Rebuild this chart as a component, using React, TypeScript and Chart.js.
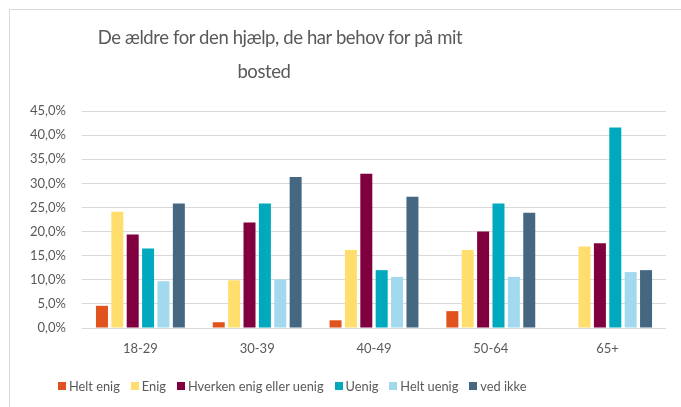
import React, { useEffect, useRef } from "react";
import { Chart, registerables } from "chart.js";

Chart.register(...registerables);

const categories = ["18-29", "30-39", "40-49", "50-64", "65+"];
const seriesNames = ["Helt enig", "Enig", "Hverken enig eller uenig", "Uenig", "Helt uenig", "ved ikke"];
const heltEnig = [4.6, 1.2, 1.6, 3.5, 0];
const enig = [24.1, 9.9, 16.2, 16.2, 16.9];
const hverken = [19.4, 21.9, 32.0, 20.0, 17.6];
const uenig = [16.5, 25.8, 12.0, 25.8, 41.6];
const heltUenig = [9.7, 10.1, 10.6, 10.6, 11.6];
const vedIkke = [25.8, 31.3, 27.2, 23.9, 12.0];
const seriesColors = ["#E0531F", "#FFDE6E", "#80003F", "#00A9BD", "#A3D9EE", "#456781"];
const yTicks = [0, 5, 10, 15, 20, 25, 30, 35, 40, 45];
const titleLines = ["De ældre for den hjælp, de har behov for på mit", "bosted"];

const FONT = "Lato, 'Liberation Sans', sans-serif";

export default function App() {
  const ref = useRef<HTMLCanvasElement | null>(null);
  useEffect(() => {
    if (!ref.current) return;
    const values = [heltEnig, enig, hverken, uenig, heltUenig, vedIkke];
    const chart = new Chart(ref.current, {
      type: "bar",
      data: {
        labels: categories,
        datasets: seriesNames.map((name, i) => ({
          label: name,
          data: values[i],
          backgroundColor: seriesColors[i],
          borderWidth: 0,
          categoryPercentage: 0.79,
          barPercentage: 0.78,
        })),
      },
      options: {
        responsive: false,
        animation: false,
        layout: { padding: { left: 0, right: 15, top: 111, bottom: 0 } },
        plugins: { legend: { display: false }, title: { display: false }, tooltip: { enabled: false } },
        scales: {
          x: {
            grid: { display: false, drawTicks: false },
            border: { display: false },
            ticks: { padding: 13, color: "#595959", font: { family: FONT, size: 13 } },
            afterFit: (s: any) => { s.height = 79; },
          },
          y: {
            min: 0,
            max: 45,
            afterBuildTicks: (s: any) => { s.ticks = yTicks.map((v) => ({ value: v })); },
            grid: { color: "#d9d9d9", lineWidth: 1, drawTicks: false },
            border: { display: false },
            ticks: {
              padding: 16,
              color: "#595959",
              font: { family: FONT, size: 13 },
              callback: (v: any) => Number(v).toFixed(1).replace(".", ",") + "%",
            },
            afterFit: (s: any) => { s.width = 82; },
          },
        },
      },
    });
    return () => chart.destroy();
  }, []);

  const titleCenters = [280, 264];
  const titleTops = [22, 56];

  return (
    <div style={{ position: "fixed", left: 0, top: 0, width: 681, height: 407, overflow: "hidden", background: "#fff", fontFamily: FONT }}>
      <div style={{ position: "absolute", left: 9, top: 9, width: 700, height: 420, border: "1px solid #d9d9d9" }} />
      <canvas ref={ref} width={681} height={407} style={{ position: "absolute", left: 0, top: 0 }} />
      {titleLines.map((t, i) => (
        <div key={i} style={{ position: "absolute", left: titleCenters[i] - 300, top: titleTops[i], width: 600, textAlign: "center", color: "#595959", fontSize: 18.5, letterSpacing: "-0.4px", lineHeight: "30px", whiteSpace: "nowrap" }}>{t}</div>
      ))}
      <div style={{ position: "absolute", left: 58, top: 378, display: "flex", alignItems: "center", color: "#595959", fontSize: 12.8, whiteSpace: "nowrap" }}>
        {seriesNames.map((n, i) => (
          <div key={i} style={{ display: "flex", alignItems: "center", marginRight: 11 }}>
            <span style={{ display: "inline-block", width: 8, height: 8, background: seriesColors[i], marginRight: 3 }} />
            <span>{n}</span>
          </div>
        ))}
      </div>
    </div>
  );
}
